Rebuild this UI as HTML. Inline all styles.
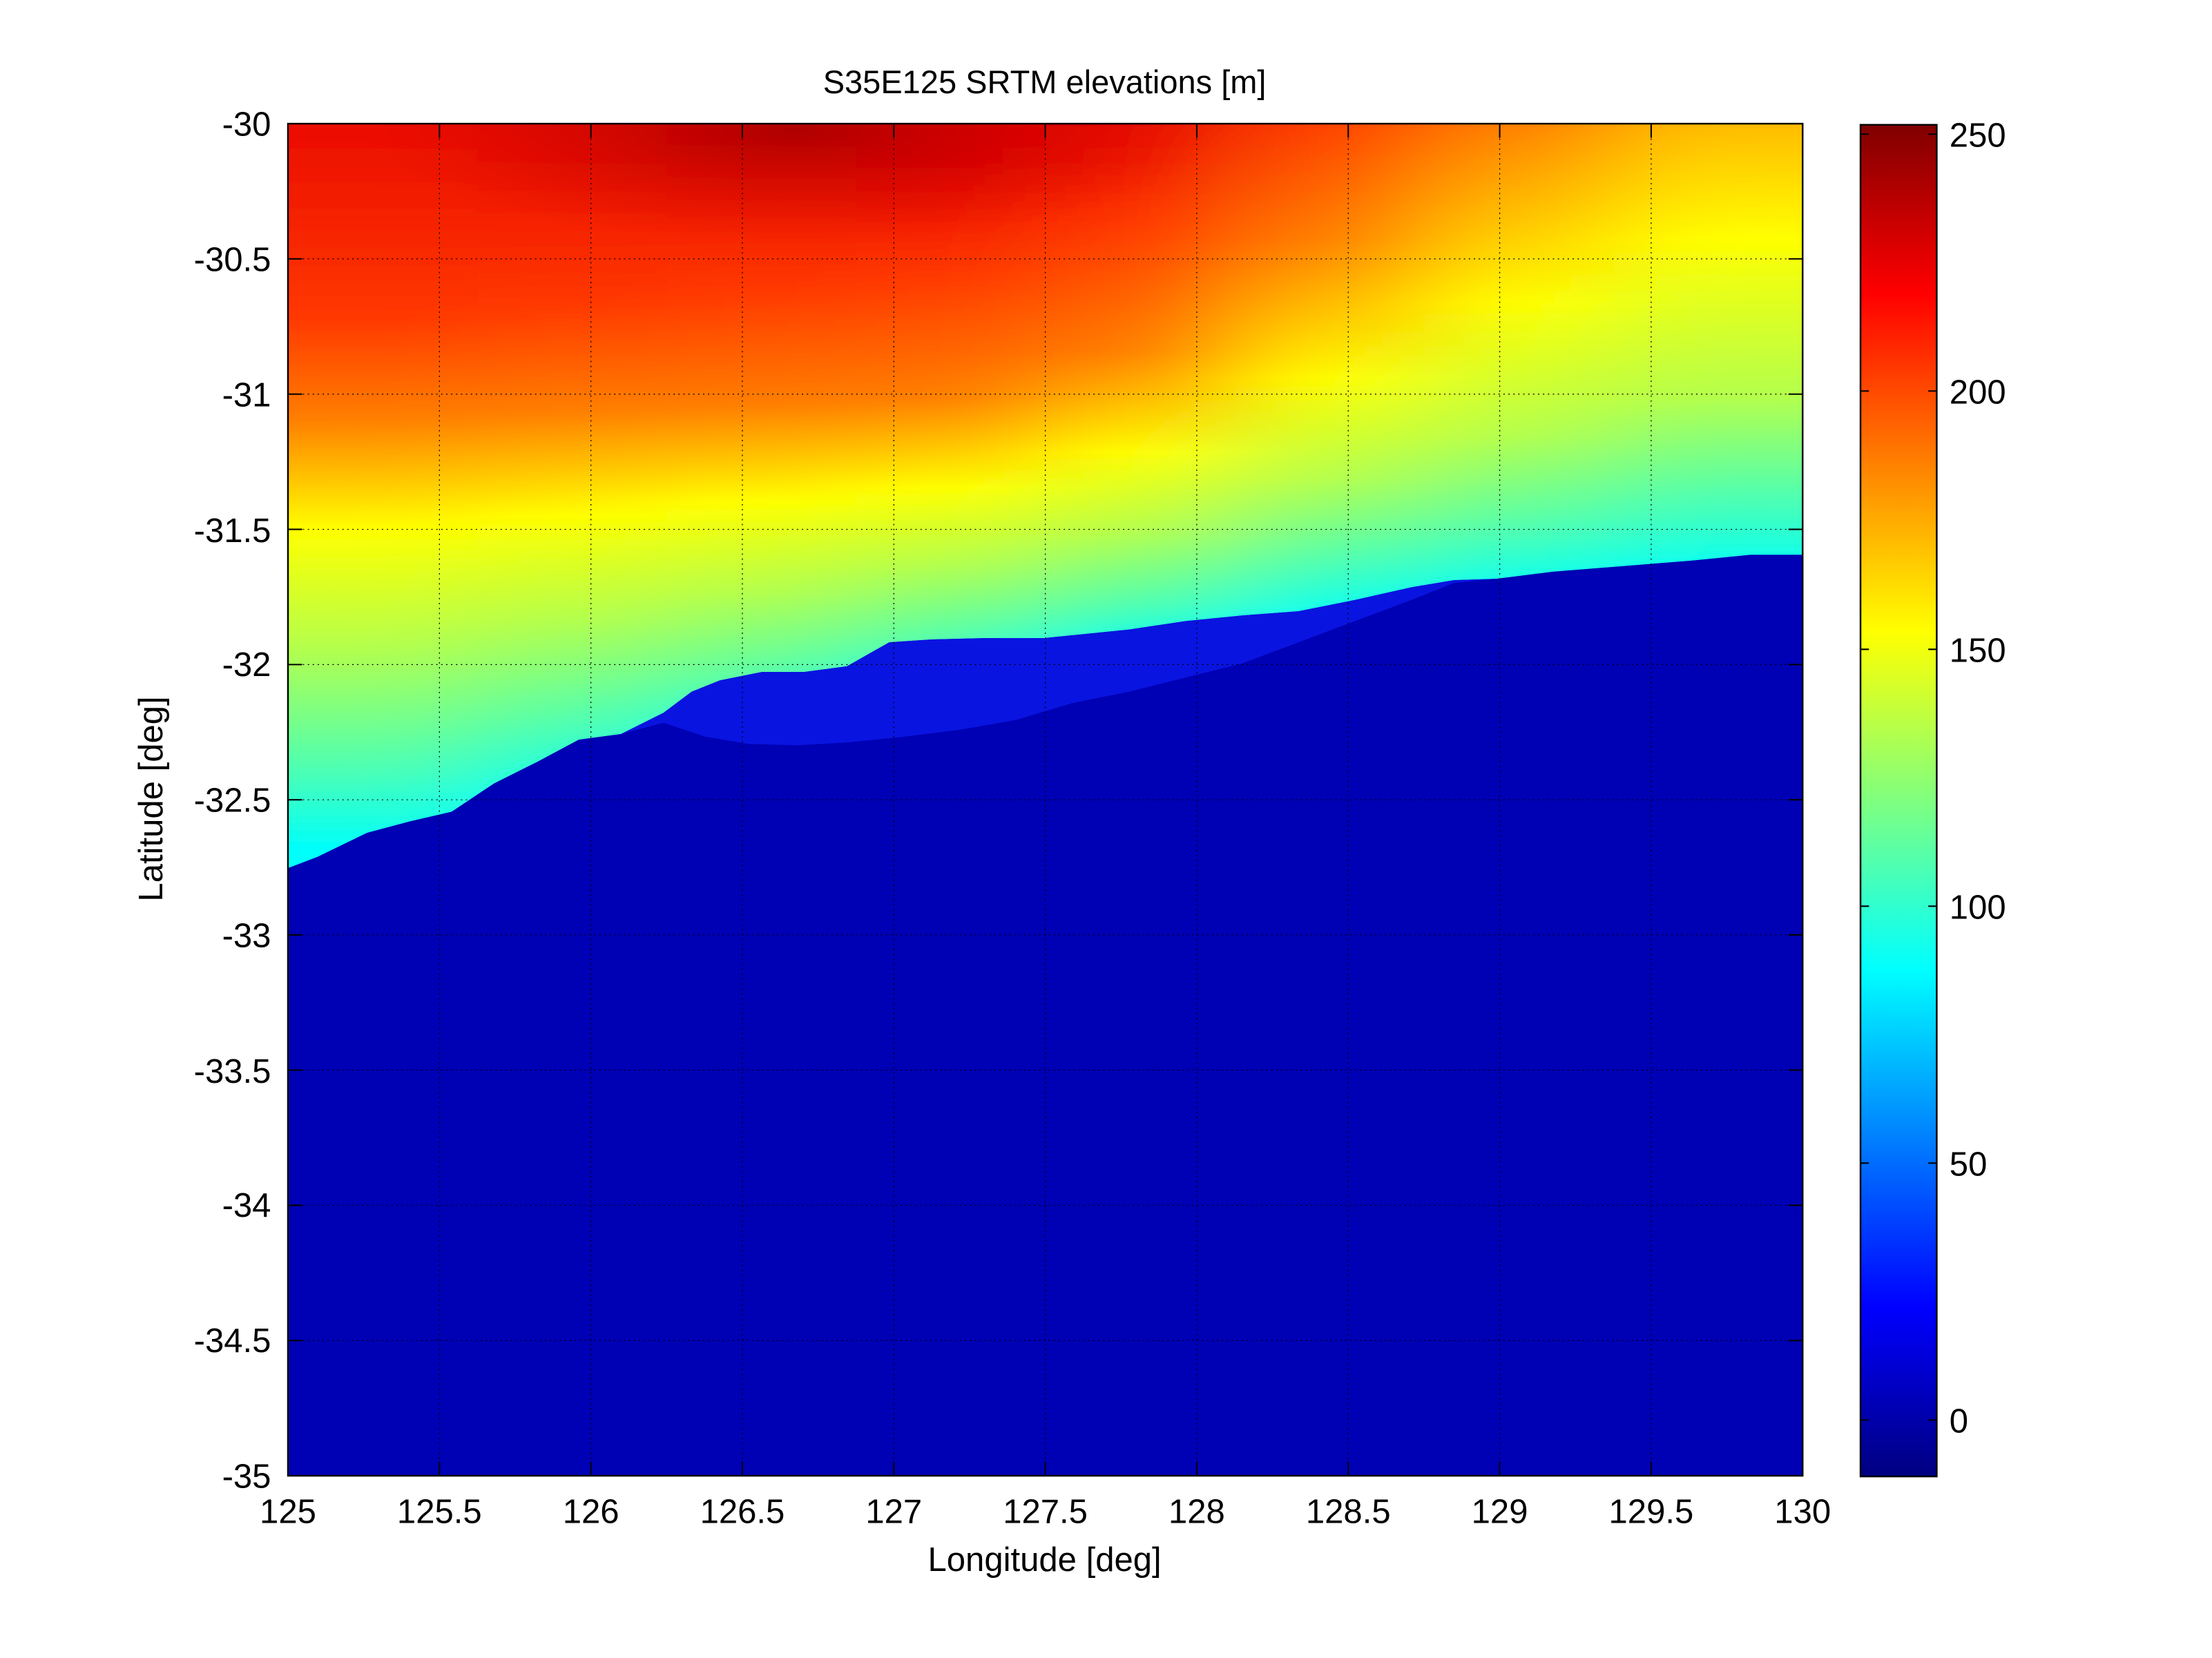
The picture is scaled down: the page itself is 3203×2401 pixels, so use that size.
<!DOCTYPE html>
<html><head><meta charset="utf-8"><style>html,body{margin:0;padding:0;background:#fff}svg{display:block}</style></head>
<body>
<svg width="3203" height="2401" viewBox="0 0 1567 1174.6" xmlns="http://www.w3.org/2000/svg" font-family="Liberation Sans, Arial, sans-serif">
<defs>
<clipPath id="lc"><polygon points="204,87.6 1277,87.6 1277,393 1240,393 1200,397 1150,401 1100,405 1060,410 1030,411 1000,416 960,425 920,433 880,436 840,440 800,446 760,450 740,452 700,452 660,453 630,455 600,472 570,476 540,476 510,482 490,490 470,505 440,520 410,524 380,540 350,555 320,575 290,582 260,590 225,607 204,615"/></clipPath>
<filter id="hb" x="-0.2" y="-0.2" width="1.4" height="1.4"><feGaussianBlur stdDeviation="45 0"/></filter>
<linearGradient id="g1" gradientUnits="userSpaceOnUse" x1="0" y1="-200" x2="0" y2="700"><stop offset=".278" stop-color="#e60000"/><stop offset=".472" stop-color="#ff3800"/><stop offset=".553" stop-color="#ff8000"/><stop offset=".639" stop-color="#ffff00"/><stop offset=".733" stop-color="#b3ff4d"/><stop offset=".828" stop-color="#4dffb3"/><stop offset=".89" stop-color="#00fffa"/></linearGradient>
<linearGradient id="g2" gradientUnits="userSpaceOnUse" x1="0" y1="-200" x2="0" y2="700"><stop offset=".3" stop-color="#e60000"/><stop offset=".461" stop-color="#ff3800"/><stop offset=".547" stop-color="#ff8000"/><stop offset=".628" stop-color="#ffff00"/><stop offset=".711" stop-color="#b3ff4d"/><stop offset=".794" stop-color="#4dffb3"/><stop offset=".849" stop-color="#00fffa"/></linearGradient>
<linearGradient id="g3" gradientUnits="userSpaceOnUse" x1="0" y1="-200" x2="0" y2="700"><stop offset=".322" stop-color="#e60000"/><stop offset=".45" stop-color="#ff3800"/><stop offset=".542" stop-color="#ff8000"/><stop offset=".617" stop-color="#ffff00"/><stop offset=".689" stop-color="#b3ff4d"/><stop offset=".761" stop-color="#4dffb3"/><stop offset=".807" stop-color="#00fffa"/></linearGradient>
<linearGradient id="g4" gradientUnits="userSpaceOnUse" x1="0" y1="-200" x2="0" y2="700"><stop offset=".344" stop-color="#e60000"/><stop offset=".439" stop-color="#ff3800"/><stop offset=".536" stop-color="#ff8000"/><stop offset=".606" stop-color="#ffff00"/><stop offset=".667" stop-color="#b3ff4d"/><stop offset=".728" stop-color="#4dffb3"/><stop offset=".766" stop-color="#00fffa"/></linearGradient>
<linearGradient id="g5" gradientUnits="userSpaceOnUse" x1="0" y1="-200" x2="0" y2="700"><stop offset=".311" stop-color="#e60000"/><stop offset=".399" stop-color="#ff3800"/><stop offset=".499" stop-color="#ff8000"/><stop offset=".578" stop-color="#ffff00"/><stop offset=".641" stop-color="#b3ff4d"/><stop offset=".699" stop-color="#4dffb3"/><stop offset=".734" stop-color="#00fffa"/></linearGradient>
<linearGradient id="g6" gradientUnits="userSpaceOnUse" x1="0" y1="-200" x2="0" y2="700"><stop offset=".2" stop-color="#e60000"/><stop offset=".31" stop-color="#ff3800"/><stop offset=".41" stop-color="#ff8000"/><stop offset=".52" stop-color="#ffff00"/><stop offset=".6" stop-color="#b3ff4d"/><stop offset=".665" stop-color="#4dffb3"/><stop offset=".71" stop-color="#00fffa"/></linearGradient>
<linearGradient id="g7" gradientUnits="userSpaceOnUse" x1="0" y1="-200" x2="0" y2="700"><stop offset=".1" stop-color="#e60000"/><stop offset=".22" stop-color="#ff3800"/><stop offset=".32" stop-color="#ff8000"/><stop offset=".46" stop-color="#ffff00"/><stop offset=".565" stop-color="#b3ff4d"/><stop offset=".64" stop-color="#4dffb3"/><stop offset=".69" stop-color="#00fffa"/></linearGradient>
<linearGradient id="g8" gradientUnits="userSpaceOnUse" x1="0" y1="-200" x2="0" y2="700"><stop offset=".0" stop-color="#e60000"/><stop offset=".14" stop-color="#ff3800"/><stop offset=".24" stop-color="#ff8000"/><stop offset=".41" stop-color="#ffff00"/><stop offset=".535" stop-color="#b3ff4d"/><stop offset=".615" stop-color="#4dffb3"/><stop offset=".675" stop-color="#00fffa"/></linearGradient>
<radialGradient id="dark" gradientUnits="userSpaceOnUse" cx="560" cy="92" r="230" gradientTransform="translate(560 92) scale(1.3 0.35) translate(-560 -92)">
<stop offset="0" stop-color="#a00000" stop-opacity="0.8"/>
<stop offset="1" stop-color="#d00000" stop-opacity="0"/>
</radialGradient>
<linearGradient id="jet" x1="0" y1="1" x2="0" y2="0">
<stop offset="0" stop-color="#000080"/>
<stop offset="0.125" stop-color="#0000ff"/>
<stop offset="0.375" stop-color="#00ffff"/>
<stop offset="0.625" stop-color="#ffff00"/>
<stop offset="0.875" stop-color="#ff0000"/>
<stop offset="1" stop-color="#800000"/>
</linearGradient>
</defs>
<text x="740" y="66" font-size="23" text-anchor="middle">S35E125 SRTM elevations [m]</text>
<rect x="204" y="87.6" width="1073" height="957.9" fill="#0000b4"/>
<g clip-path="url(#lc)">
<g filter="url(#hb)">
<rect x="80" y="60" width="259" height="600" fill="url(#g1)"/>
<rect x="338.1" y="60" width="135" height="600" fill="url(#g2)"/>
<rect x="472.3" y="60" width="135" height="600" fill="url(#g3)"/>
<rect x="606.4" y="60" width="135" height="600" fill="url(#g4)"/>
<rect x="740.5" y="60" width="135" height="600" fill="url(#g5)"/>
<rect x="874.6" y="60" width="135" height="600" fill="url(#g6)"/>
<rect x="1008.8" y="60" width="135" height="600" fill="url(#g7)"/>
<rect x="1142.9" y="60" width="260" height="600" fill="url(#g8)"/>
</g>
</g>
<rect x="204" y="87.6" width="1073" height="150" fill="url(#dark)"/>
<polygon fill="#0a14e0" points="1060,410 1030,411 1000,416 960,425 920,433 880,436 840,440 800,446 760,450 740,452 700,452 660,453 630,455 600,472 570,476 540,476 510,482 490,490 470,505 440,520 470,512 500,522 530,527 565,528 600,526 640,522 680,517 720,510 760,498 800,490 840,480 880,470 920,455 960,440 1000,425 1030,413"/>
<g stroke="#000" stroke-width="0.6" stroke-dasharray="1 2.5" fill="none">
<path d="M311.3,87.6V1045.5M418.6,87.6V1045.5M525.9,87.6V1045.5M633.2,87.6V1045.5M740.5,87.6V1045.5M847.8,87.6V1045.5M955.1,87.6V1045.5M1062.4,87.6V1045.5M1169.7,87.6V1045.5"/>
<path d="M204,183.4H1277M204,279.2H1277M204,375H1277M204,470.8H1277M204,566.6H1277M204,662.3H1277M204,758.1H1277M204,853.9H1277M204,949.7H1277"/>
</g>
<g stroke="#000" stroke-width="1">
<path d="M311.3,87.6v10M418.6,87.6v10M525.9,87.6v10M633.2,87.6v10M740.5,87.6v10M847.8,87.6v10M955.1,87.6v10M1062.4,87.6v10M1169.7,87.6v10"/>
<path d="M311.3,1045.5v-10M418.6,1045.5v-10M525.9,1045.5v-10M633.2,1045.5v-10M740.5,1045.5v-10M847.8,1045.5v-10M955.1,1045.5v-10M1062.4,1045.5v-10M1169.7,1045.5v-10"/>
<path d="M204,183.4h10M204,279.2h10M204,375h10M204,470.8h10M204,566.6h10M204,662.3h10M204,758.1h10M204,853.9h10M204,949.7h10"/>
<path d="M1277,183.4h-10M1277,279.2h-10M1277,375h-10M1277,470.8h-10M1277,566.6h-10M1277,662.3h-10M1277,758.1h-10M1277,853.9h-10M1277,949.7h-10"/>
</g>
<rect x="204" y="87.6" width="1073" height="957.9" fill="none" stroke="#000" stroke-width="1.2"/>
<g font-size="24" text-anchor="end">
<text x="192" y="96">-30</text><text x="192" y="192">-30.5</text><text x="192" y="288">-31</text><text x="192" y="384">-31.5</text><text x="192" y="479">-32</text><text x="192" y="575">-32.5</text><text x="192" y="671">-33</text><text x="192" y="767">-33.5</text><text x="192" y="862">-34</text><text x="192" y="958">-34.5</text><text x="192" y="1054">-35</text>
</g>
<g font-size="24" text-anchor="middle">
<text x="204" y="1079">125</text><text x="311.3" y="1079">125.5</text><text x="418.6" y="1079">126</text><text x="525.9" y="1079">126.5</text><text x="633.2" y="1079">127</text><text x="740.5" y="1079">127.5</text><text x="847.8" y="1079">128</text><text x="955.1" y="1079">128.5</text><text x="1062.4" y="1079">129</text><text x="1169.7" y="1079">129.5</text><text x="1277" y="1079">130</text>
</g>
<text x="740" y="1113" font-size="24" text-anchor="middle">Longitude [deg]</text>
<text transform="translate(115 566) rotate(-90)" font-size="24" text-anchor="middle">Latitude [deg]</text>
<rect x="1318" y="88.4" width="54" height="957.6" fill="url(#jet)" stroke="#000" stroke-width="1.2"/>
<g stroke="#000" stroke-width="1">
<path d="M1318,95h6M1372,95h-6M1318,277h6M1372,277h-6M1318,460h6M1372,460h-6M1318,642h6M1372,642h-6M1318,824h6M1372,824h-6M1318,1006h6M1372,1006h-6"/>
</g>
<g font-size="24">
<text x="1381" y="104">250</text><text x="1381" y="286">200</text><text x="1381" y="469">150</text><text x="1381" y="651">100</text><text x="1381" y="833">50</text><text x="1381" y="1015">0</text>
</g>
</svg>
</body></html>
